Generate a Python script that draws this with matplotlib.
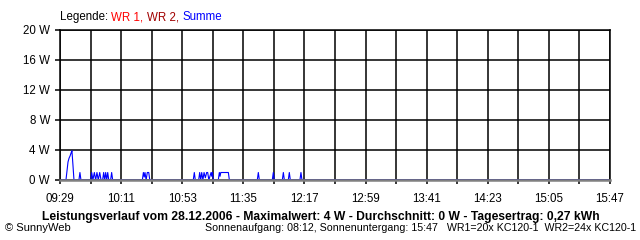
import numpy as np
import matplotlib
matplotlib.use("Agg")
import matplotlib.pyplot as plt
from matplotlib.ticker import MultipleLocator

plt.rcParams['font.family'] = ['Liberation Sans', 'DejaVu Sans']

# minutes after 09:29 and power of "Summe" in W
t_min = [0.0, 4.1, 4.8, 5.5, 6.2, 6.9, 7.6, 8.2, 8.9, 9.6,
         13.0, 13.7, 14.4,
         21.1, 21.8, 22.6, 23.6, 24.5, 25.4, 26.3, 27.3, 28.2,
         29.3, 30.0, 30.7, 31.4, 32.1, 32.8, 33.5,
         34.8, 35.5, 36.2,
         56.6, 57.3, 57.9, 58.4, 59.2, 60.0, 61.0, 61.7,
         91.6, 92.3, 93.0,
         95.3, 96.0, 96.7, 97.4, 98.2, 99.0, 99.9, 100.8, 101.5, 102.3,
         103.8, 104.3, 104.7, 105.4,
         108.8, 109.5, 110.0, 110.5, 111.5, 115.7, 116.4,
         135.6, 136.3, 137.0,
         145.9, 146.6, 147.3,
         152.8, 153.5, 154.2,
         156.9, 157.6, 158.3,
         164.9, 165.6, 166.3, 378.0]
summe_w = [0, 0, 1.2, 2.4, 2.9, 3.2, 3.6, 3.9, 2.0, 0,
           0, 1.0, 0,
           0, 1.0, 0, 1.0, 0, 1.0, 0, 1.0, 0,
           0, 1.0, 0, 1.0, 0, 1.0, 0,
           0, 1.0, 0,
           0, 1.0, 0.4, 1.0, 0, 1.0, 1.0, 0,
           0, 1.0, 0,
           0, 1.0, 0, 1.0, 0, 1.0, 0.3, 1.0, 1.0, 0,
           1.0, 0.5, 1.0, 0,
           0, 1.0, 0.5, 1.0, 1.0, 1.0, 0,
           0, 1.0, 0,
           0, 1.0, 0,
           0, 1.0, 0,
           0, 1.0, 0,
           0, 1.0, 0, 0]

x_labels = ["09:29", "10:11", "10:53", "11:35", "12:17", "12:59",
            "13:41", "14:23", "15:05", "15:47"]
y_labels = ["0 W", "4 W", "8 W", "12 W", "16 W", "20 W"]

fig = plt.figure(figsize=(6.4, 2.4), dpi=100)
ax = fig.add_axes([60 / 640, 60 / 240, 550 / 640, 150 / 240])

ax.plot(t_min, summe_w, color='#0000ff', lw=0.8, zorder=2)

ax.set_xlim(0, 378)
ax.set_ylim(0, 20)
ax.set_xticks(np.arange(0, 379, 42))
ax.set_xticklabels(x_labels)
ax.xaxis.set_minor_locator(MultipleLocator(21))
ax.set_yticks(np.arange(0, 21, 4))
ax.set_yticklabels(y_labels)
ax.grid(which='both', color='black', lw=1.1)
ax.set_axisbelow(True)
ax.tick_params(axis='x', which='both', length=3, width=1.1, direction='out',
               pad=6, labelsize=8.3)
ax.tick_params(axis='y', length=3.6, width=1.1, pad=3.6, labelsize=8.3)
for s in ['left', 'top', 'right']:
    ax.spines[s].set_linewidth(1.1)
ax.spines['bottom'].set_color('#808080')
ax.spines['bottom'].set_linewidth(1.8)
ax.spines['bottom'].set_zorder(3)

t0 = fig.text(60 / 640, 1 - 17 / 240, "Legende: ", fontsize=8.3, va='center')
t1 = ax.annotate("WR 1, ", xy=(1, 0), xycoords=t0, va='bottom', fontsize=8.3,
                 color='#ff0000')
t2 = ax.annotate("WR 2, ", xy=(1, 0), xycoords=t1, va='bottom', fontsize=8.3,
                 color='#a00000')
ax.annotate("Summe", xy=(1, 0), xycoords=t2, va='bottom', fontsize=8.3,
            color='#0000ff')

fig.text(321 / 640, 1 - 217 / 240,
         "Leistungsverlauf vom 28.12.2006 - Maximalwert: 4 W - Durchschnitt: 0 W - Tagesertrag: 0,27 kWh",
         fontsize=8.7, fontweight='bold', ha='center', va='center')
fig.text(5 / 640, 1 - 228 / 240, "\u00a9 SunnyWeb", fontsize=8, va='center')
fig.text(636 / 640, 1 - 228 / 240,
         "Sonnenaufgang: 08:12, Sonnenuntergang: 15:47   WR1=20x KC120-1  WR2=24x KC120-1",
         fontsize=7.7, ha='right', va='center')

fig.savefig("out.png", dpi=100)
